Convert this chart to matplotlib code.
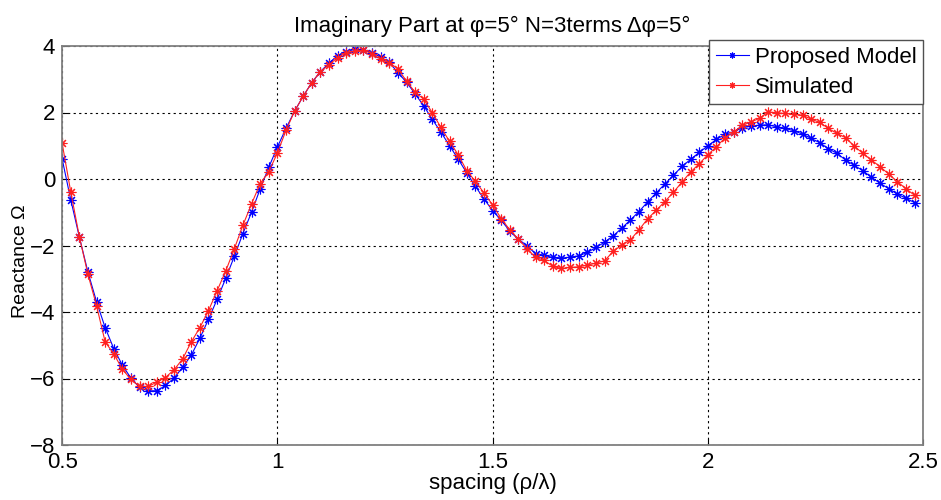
import numpy as np
import matplotlib.pyplot as plt

plt.rcParams.update(
    {
        "font.family": ["Liberation Sans", "DejaVu Sans"],
        "font.size": 16,
    }
)

# spacing rho/lambda, one sample every 0.02
spacing = np.round(np.arange(0.5, 2.49, 0.02), 2)

proposed = [
    0.61, -0.62, -1.74, -2.80, -3.69, -4.47, -5.10, -5.60, -5.99, -6.27,
    -6.37, -6.37, -6.21, -5.99, -5.66, -5.30, -4.79, -4.22, -3.62, -2.99,
    -2.33, -1.64, -1.00, -0.30, 0.35, 0.96, 1.52, 2.04, 2.49, 2.90,
    3.23, 3.49, 3.71, 3.83, 3.90, 3.89, 3.79, 3.67, 3.51, 3.20,
    2.91, 2.56, 2.20, 1.79, 1.41, 1.00, 0.60, 0.18, -0.22, -0.60,
    -0.95, -1.24, -1.57, -1.81, -2.01, -2.25, -2.30, -2.36, -2.38, -2.35,
    -2.31, -2.21, -2.06, -1.90, -1.71, -1.48, -1.23, -0.98, -0.69, -0.42,
    -0.15, 0.11, 0.38, 0.59, 0.80, 1.00, 1.19, 1.35, 1.42, 1.54,
    1.59, 1.62, 1.63, 1.57, 1.52, 1.45, 1.35, 1.22, 1.09, 0.91,
    0.77, 0.57, 0.41, 0.25, 0.05, -0.13, -0.29, -0.45, -0.58, -0.71,
]

simulated = [
    1.08, -0.38, -1.73, -2.87, -3.81, -4.90, -5.26, -5.72, -6.03, -6.24,
    -6.24, -6.11, -5.97, -5.74, -5.41, -4.90, -4.47, -3.96, -3.36, -2.77,
    -2.10, -1.39, -0.75, -0.14, 0.22, 0.78, 1.46, 2.04, 2.49, 2.90,
    3.23, 3.44, 3.65, 3.80, 3.84, 3.87, 3.77, 3.60, 3.49, 3.32,
    2.94, 2.61, 2.40, 1.99, 1.55, 1.13, 0.73, 0.25, -0.07, -0.42,
    -0.78, -1.19, -1.53, -1.81, -2.10, -2.36, -2.45, -2.63, -2.69, -2.66,
    -2.64, -2.59, -2.53, -2.46, -2.18, -1.98, -1.83, -1.53, -1.20, -0.94,
    -0.68, -0.40, -0.09, 0.21, 0.46, 0.73, 0.97, 1.24, 1.42, 1.61,
    1.72, 1.82, 2.02, 1.99, 1.97, 1.94, 1.92, 1.80, 1.70, 1.52,
    1.37, 1.24, 0.99, 0.77, 0.57, 0.37, 0.15, -0.08, -0.29, -0.49,
]

xticks = [0.5, 1, 1.5, 2, 2.5]
yticks = [-8, -6, -4, -2, 0, 2, 4]

fig = plt.figure(figsize=(9.41, 5.0), dpi=100)
ax = fig.add_axes([0.066, 0.11, 0.915, 0.798])

# matlab style '*' marker: plus and cross together
star = (8, 2, 0)
ax.plot(spacing, proposed, color="blue", marker=star, markersize=7,
        markeredgewidth=0.8, linewidth=0.8, label="Proposed Model")
ax.plot(spacing, simulated, color="#ff2020", marker=star, markersize=7,
        markeredgewidth=0.8, linewidth=0.8, label="Simulated")

ax.set_xlim(0.5, 2.5)
ax.set_ylim(-8, 4)
ax.set_xticks(xticks)
ax.set_xticklabels(["0.5", "1", "1.5", "2", "2.5"])
ax.set_yticks(yticks)
ax.grid(True, color="black", linestyle=(0, (2, 3)), linewidth=0.8)
ax.tick_params(direction="in", length=4, labelsize=16, pad=5)
for s in ax.spines.values():
    s.set_color("#808080")
    s.set_linewidth(1.3)

ax.set_title("Imaginary Part at φ=5° N=3terms Δφ=5°", fontsize=16, pad=10)
ax.set_xlabel("spacing (ρ/λ)", fontsize=16, labelpad=0)
ax.set_ylabel("Reactance Ω", fontsize=14)
ax.yaxis.set_label_coords(-0.038, 0.46)

leg = ax.legend(loc="upper right", bbox_to_anchor=(1.0, 1.015), fontsize=16,
                frameon=True, fancybox=False, borderaxespad=0.0,
                handlelength=1.5, borderpad=0.3, labelspacing=0.4,
                handletextpad=0.25, markerscale=0.6)
leg.get_frame().set_edgecolor("#505050")
leg.get_frame().set_linewidth(1.0)
leg.get_frame().set_alpha(1.0)

plt.savefig("out.png", dpi=100)
